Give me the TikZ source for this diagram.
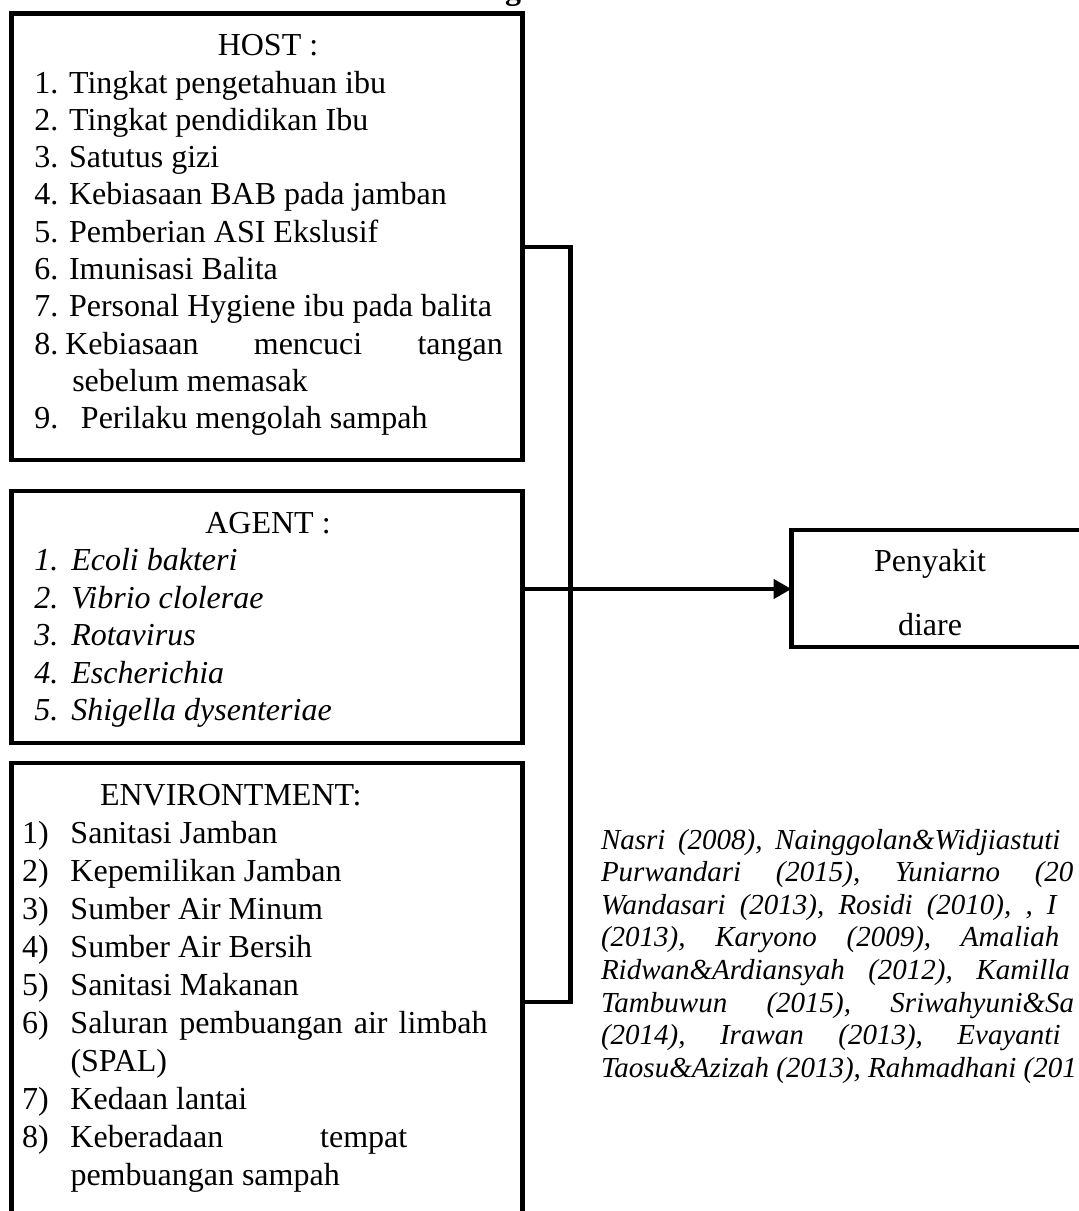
\documentclass[tikz,border=0pt]{standalone}
\usepackage{fontspec}
\setmainfont{Liberation Serif}
\usetikzlibrary{arrows.meta}
\begin{document}
\begin{tikzpicture}[x=1pt,y=-1pt,
  box/.style={draw, line width=4.5pt, inner sep=0pt, outer sep=0pt, anchor=north west},
  conn/.style={line width=4.5pt},
  tx/.style={inner sep=0pt, outer sep=0pt, anchor=base west, font=\fontsize{32}{36.8}\selectfont},
  tc/.style={tx, anchor=base},
  ti/.style={tx, font=\fontsize{32}{36.8}\selectfont\itshape},
  ci/.style={tx, font=\fontsize{29}{32.6}\selectfont\itshape}]
\useasboundingbox (0,0) rectangle (1079,1211);
\clip (0,0) rectangle (1079,1211);

% partial heading letter at the top edge
\node[tx, font=\fontsize{32}{36.8}\selectfont\bfseries] (gtop) at (505,-1) {g};

% boxes
\node[box, minimum width=511pt, minimum height=446.25pt] (host) at (11.5,13.5) {};
\node[box, minimum width=511pt, minimum height=252pt] (agent) at (11.5,491) {};
\node[box, minimum width=511pt, minimum height=480pt] (env) at (11.5,763) {};
\node[box, minimum width=320pt, minimum height=117pt] (pen) at (791.5,530) {};

% connectors
\coordinate (jh) at (570.5,247);
\coordinate (je) at (570.5,1002);
\coordinate (ja) at (570.5,589);
\draw[conn] (jh -| host.east) -- (jh) -- (je) -- (je -| env.east);
\draw[conn, -{Triangle[length=18pt,width=19pt]}] (ja -| agent.east) -- (ja -| pen.west);

% HOST
\node[tc] (hostt) at (268,55) {HOST :};
\node[tx] (h1) at (34.4,93) {1. Tingkat pengetahuan ibu};
\node[tx] (h2) at (34.4,130.3) {2. Tingkat pendidikan Ibu};
\node[tx] (h3) at (34.4,167.6) {3. Satutus gizi};
\node[tx] (h4) at (34.4,204.9) {4. Kebiasaan BAB pada jamban};
\node[tx] (h5) at (34.4,242.2) {5. Pemberian ASI Ekslusif};
\node[tx] (h6) at (34.4,279.5) {6. Imunisasi Balita};
\node[tx] (h7) at (34.4,316.8) {7. Personal Hygiene ibu pada balita};
\node[tx] (h8) at (34.4,354.1) {\makebox[31pt][l]{8.}\hbox to 437.4pt{Kebiasaan\hfill mencuci\hfill tangan}};
\node[tx] (h8b) at (72.3,391.4) {sebelum memasak};
\node[tx] (h9) at (34.4,428.7) {\makebox[46.6pt][l]{9.}Perilaku mengolah sampah};

% AGENT
\node[tc] (agentt) at (268,533) {AGENT :};
\node[ti] (a1) at (34.4,570.5) {\makebox[36.9pt][l]{1.}Ecoli bakteri};
\node[ti] (a2) at (34.4,608) {\makebox[36.9pt][l]{2.}Vibrio clolerae};
\node[ti] (a3) at (34.4,645.5) {\makebox[36.9pt][l]{3.}Rotavirus};
\node[ti] (a4) at (34.4,683) {\makebox[36.9pt][l]{4.}Escherichia};
\node[ti] (a5) at (34.4,720.5) {\makebox[36.9pt][l]{5.}Shigella dysenteriae};

% ENVIRONMENT
\node[tx] (envt) at (100,805) {ENVIRONTMENT:};
\node[tx] (e1) at (22,843) {\makebox[48.5pt][l]{1)}Sanitasi Jamban};
\node[tx] (e2) at (22,881) {\makebox[48.5pt][l]{2)}Kepemilikan Jamban};
\node[tx] (e3) at (22,919) {\makebox[48.5pt][l]{3)}Sumber Air Minum};
\node[tx] (e4) at (22,957) {\makebox[48.5pt][l]{4)}Sumber Air Bersih};
\node[tx] (e5) at (22,995) {\makebox[48.5pt][l]{5)}Sanitasi Makanan};
\node[tx] (e6) at (22,1033) {\makebox[48.5pt][l]{6)}\hbox to 417pt{Saluran\hfill pembuangan\hfill air\hfill limbah}};
\node[tx] (e6b) at (70.5,1071) {(SPAL)};
\node[tx] (e7) at (22,1109) {\makebox[48.5pt][l]{7)}Kedaan lantai};
\node[tx] (e8) at (22,1147) {\makebox[48.5pt][l]{8)}\hbox to 336.8pt{Keberadaan\hfill tempat}};
\node[tx] (e8b) at (70.5,1185) {pembuangan sampah};

% outcome
\node[tc] (pen1) at (930,571.7) {Penyakit};
\node[tc] (pen2) at (930,635) {diare};

% references
\node[ci] (r1) at (601,849) {\hbox to 459.4pt{Nasri\hfill (2008),\hfill Nainggolan\&Widjiastuti}};
\node[ci] (r2) at (601,881.6) {\hbox to 433.8pt{Purwandari\hfill (2015),\hfill Yuniarno\hfill}(20};
\node[ci] (r3) at (601,914.2) {\hbox to 446pt{Wandasari\hfill (2013),\hfill Rosidi\hfill (2010),\hfill ,\hfill}I};
\node[ci] (r4) at (601,946.8) {\hbox to 360pt{(2013),\hfill Karyono\hfill (2009),\hfill}Amaliah};
\node[ci] (r5) at (601,979.4) {\hbox to 375.4pt{Ridwan\&Ardiansyah\hfill (2012),\hfill}Kamilla};
\node[ci] (r6) at (601,1012) {\hbox to 289.5pt{Tambuwun\hfill (2015),\hfill}Sriwahyuni\&Sa};
\node[ci] (r7) at (601,1044.6) {\hbox to 356.5pt{(2014),\hfill Irawan\hfill (2013),\hfill}Evayanti};
\node[ci] (r8) at (601,1077.2) {Taosu\&Azizah (2013), Rahmadhani (201};
\end{tikzpicture}
\end{document}
